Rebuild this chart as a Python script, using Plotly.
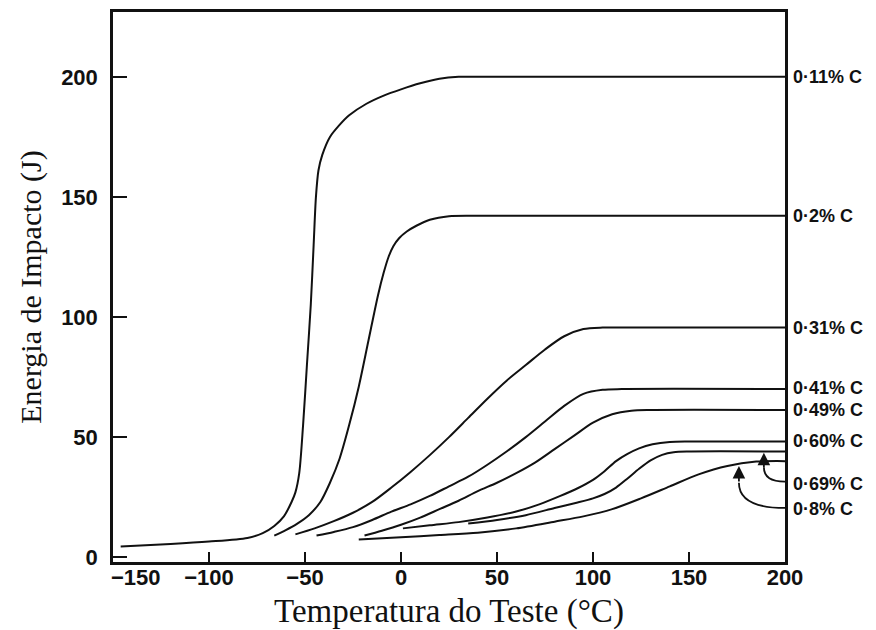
import plotly.graph_objects as go

# ---- data ----
x_011 = [-146, -120, -100, -80, -72, -66, -61, -57, -55, -53, -51, -49, -47, -45.5, -44.3, -43, -41, -37, -32, -27, -18, -9, 0, 10, 20, 30, 50, 200]
y_011 = [4.5, 5.5, 6.5, 8, 10, 13, 17, 23, 27, 35, 55, 80, 105, 130, 150, 161, 167.5, 175, 180, 184, 188.8, 192.2, 194.8, 197.3, 199.2, 200, 200, 200]

x_020 = [-66, -60, -54, -48, -42, -37, -32, -27, -22, -17, -12, -9, -6.5, -4, -1, 3, 8, 15, 25, 40, 200]
y_020 = [9, 11.3, 14, 17.5, 23, 31, 41, 55, 71, 90, 109, 118.5, 125, 129.5, 132.8, 135.6, 138, 140.5, 142, 142.2, 142.2]

x_031 = [-55, -45, -35, -25, -15, -5, 5, 15, 25, 35, 45, 55, 65, 75, 85, 95, 105, 120, 200]
y_031 = [9.5, 12, 15, 18.5, 23, 29, 35.5, 42.5, 50, 58, 66, 73.5, 80, 86.5, 92, 95, 95.6, 95.6, 95.6]

x_041 = [-44, -35, -25, -15, -5, 5, 15, 25, 35, 45, 55, 65, 75, 85, 95, 105, 115, 200]
y_041 = [9, 10.5, 12.5, 15.5, 19, 22, 25.5, 29.5, 33.5, 38.5, 44, 50, 56.5, 63, 68, 69.7, 70, 70]

x_049 = [-19, -10, 0, 10, 20, 30, 40, 50, 60, 70, 80, 90, 100, 110, 120, 130, 200]
y_049 = [9, 11, 13.5, 16.5, 20, 23.5, 27.5, 31, 35, 39.5, 45, 50.5, 56, 59.5, 61, 61.3, 61.3]

x_060 = [1, 15, 30, 45, 60, 72, 83, 92, 100, 106, 112, 118, 124, 131, 140, 150, 200]
y_060 = [12, 13.3, 14.6, 16.5, 19, 22, 25.5, 28.7, 32.2, 35.8, 40, 43, 45.3, 47, 48, 48.2, 48.2]

x_069 = [35, 50, 65, 80, 92, 100, 106, 112, 118, 124, 130, 136, 142, 150, 200]
y_069 = [14, 15.5, 17.5, 20.5, 22.8, 24.5, 26.3, 29, 32.8, 36.8, 40.3, 42.6, 43.7, 44, 44]

x_080 = [-22, 0, 20, 40, 60, 80, 95, 110, 125, 140, 155, 170, 185, 200]
y_080 = [7.4, 8.3, 9.2, 10.2, 12, 14.8, 17, 20, 24.5, 29.5, 34.5, 38, 39.8, 40]

labels = ["0·11% C", "0·2% C", "0·31% C", "0·41% C", "0·49% C", "0·60% C", "0·69% C", "0·8% C"]
label_y = [200, 142, 95.6, 70.3, 61.3, 48.2, 30.6, 20]

x_min, x_max = -150, 200
x_ticks = [-100, -50, 0, 50, 100, 150, 200]
x_tick_text = ["−100", "−50", "0", "50", "100", "150", "200"]
x_first_label = "−150"
y_ticks = [0, 50, 100, 150, 200]

series = [(x_011, y_011), (x_020, y_020), (x_031, y_031), (x_041, y_041),
          (x_049, y_049), (x_060, y_060), (x_069, y_069), (x_080, y_080)]

fig = go.Figure()
for (xs, ys), name in zip(series, labels):
    fig.add_trace(go.Scatter(x=xs, y=ys, mode="lines", name=name,
                             line=dict(color="#111111", width=2, shape="spline", smoothing=0.8),
                             hoverinfo="skip"))

tick_font = dict(family="Liberation Sans", size=22, color="#111111", weight="bold")
for txt, yy in zip(labels, label_y):
    fig.add_annotation(x=x_max, y=yy, xref="x", yref="y", text=txt, showarrow=False,
                       xanchor="left", yanchor="middle", xshift=6,
                       font=dict(family="Liberation Sans", size=18, color="#111111", weight="bold"))

# the first x tick label sits just right of the left frame, as in the original
fig.add_annotation(x=x_min, y=0, xref="x", yref="paper", text=x_first_label, showarrow=False,
                   xanchor="left", yanchor="top", xshift=-4, yshift=-1, font=tick_font)

# curved pointer arrows for 0.69 and 0.8
fig.add_shape(type="path", path="M 200,31.5 Q 189,31.5 189,37.5", xref="x", yref="y",
              line=dict(color="#111111", width=1.8))
fig.add_shape(type="path", path="M 200,20.5 Q 176,20.5 176,31", xref="x", yref="y",
              line=dict(color="#111111", width=1.8))
fig.add_annotation(x=189, y=43.5, xref="x", yref="y", text="", showarrow=True,
                   ax=0, ay=16, arrowhead=2, arrowsize=1.4, arrowwidth=1.8, arrowcolor="#111111")
fig.add_annotation(x=176, y=38, xref="x", yref="y", text="", showarrow=True,
                   ax=0, ay=17, arrowhead=2, arrowsize=1.4, arrowwidth=1.8, arrowcolor="#111111")

fig.update_layout(
    width=868, height=622,
    margin=dict(l=105, r=91, t=4, b=68, autoexpand=False),
    paper_bgcolor="white", plot_bgcolor="white",
    showlegend=False,
)
fig.update_xaxes(range=[x_min, x_max], tickvals=x_ticks, ticktext=x_tick_text,
                 ticks="inside", ticklen=10,
                 tickwidth=2, tickcolor="#111111", showline=True, linewidth=2.5,
                 linecolor="#111111", mirror=True, showgrid=False, zeroline=False,
                 tickfont=tick_font, ticklabelstandoff=-6, automargin=False,
                 title=dict(text="Temperatura do Teste (°C)", standoff=10,
                            font=dict(family="Liberation Serif", size=33, color="#111111")))
fig.update_yaxes(range=[-2, 227], tickvals=y_ticks, ticks="inside", ticklen=14,
                 tickwidth=2, tickcolor="#111111", showline=True, linewidth=2.5,
                 linecolor="#111111", mirror=True, showgrid=False, zeroline=False,
                 tickfont=tick_font, ticklabelstandoff=8, automargin=False,
                 title=dict(text="Energia de Impacto (J)", standoff=11,
                            font=dict(family="Liberation Serif", size=30, color="#111111")))

fig.write_html("out.html")
